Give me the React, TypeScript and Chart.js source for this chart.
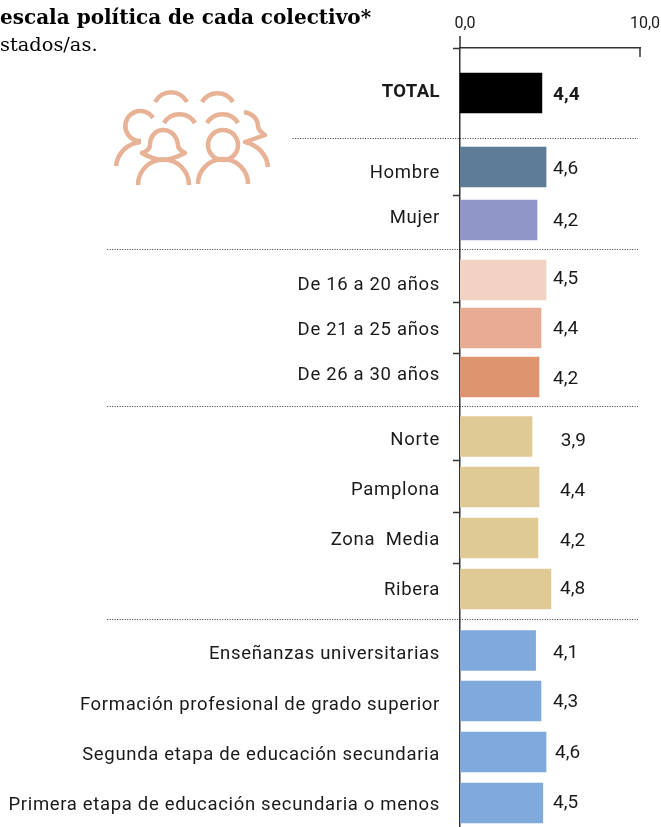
import React, { useEffect, useRef } from "react";
import { Chart, registerables } from "chart.js";

Chart.register(...registerables);

const categories = ["TOTAL","Hombre","Mujer","De 16 a 20 años","De 21 a 25 años","De 26 a 30 años","Norte","Pamplona","Zona  Media","Ribera","Enseñanzas universitarias","Formación profesional de grado superior","Segunda etapa de educación secundaria","Primera etapa de educación secundaria o menos"];
const valueLabels = ["4,4","4,6","4,2","4,5","4,4","4,2","3,9","4,4","4,2","4,8","4,1","4,3","4,6","4,5"];
const barLengths = [4.55,4.78,4.28,4.78,4.5,4.39,4.0,4.39,4.33,5.05,4.2,4.5,4.78,4.6];
const barRows = [93,167,220,280,328,377,436.5,487,538,589,650.5,701,752,803];
const labelRows = [92,173,218,285,330,375,440,490,540,590,654,705,755,805];
const valueRows = [95,169,221,279,329,379,441,491,541,589,653,702,753,803];
const valueCols = [5.17,5.17,5.17,5.17,5.17,5.17,5.6,5.56,5.56,5.56,5.17,5.17,5.28,5.17];
const barColors = ["#000000","#5E7B97","#9096C8","#F2D2C2","#E8AC92","#DE946E","#DFC995","#DFC995","#DFC995","#DFC995","#80A9DC","#80A9DC","#80A9DC","#80A9DC"];
const separators = [[138,-9.3],[249,-19.6],[406,-19.6],[619,-19.6]];
const axisTicks = [48,195,302,353,460,512,563];
const xTicks = [0,10];
const titleText = "escala política de cada colectivo*";
const subtitleText = "stados/as.";
const FONT = "Roboto";
const iconPaths = [
  "M155 103 A18 18 0 0 1 187 103",
  "M202 103 A18 18 0 0 1 233 103",
  "M164 124 A18 18 0 0 1 195 124",
  "M207 124 A18 18 0 0 1 238 124",
  "M153 119 A15 15 0 1 0 141 142",
  "M116 167 A27 27 0 0 1 141 143",
  "M244 113 C254 115 258 121 258 128 C259 132 262 134 265 136 L245 143 C258 146 267 156 268 168",
  "M142 154 C148 152 150 149 150 146 C150 137 156 131 163 131 C171 131 177 137 178 146 C178 150 181 152 185 154 C177 158 170 161 163 161 C156 161 149 158 142 154 Z",
  "M138 186 A25 25 0 0 1 189 186",
  "M198 185 A25 25 0 0 1 248 185",
  "M238 146 A15 15 0 1 1 208 146 A15 15 0 1 1 238 146 Z",
];

const overlay = {
  id: "overlay",
  afterDraw(c: any) {
    const { ctx, scales: { x, y } } = c;
    ctx.save();
    ctx.setLineDash([1, 1.5]);
    ctx.strokeStyle = "#333";
    ctx.lineWidth = 1;
    separators.forEach(([r, s]) => { ctx.beginPath(); ctx.moveTo(x.getPixelForValue(s), y.getPixelForValue(r)+.5); ctx.lineTo(638, y.getPixelForValue(r)+.5); ctx.stroke(); });
    ctx.setLineDash([]);
    ctx.lineWidth = 1.5;
    ctx.strokeStyle = "#333";
    ctx.beginPath();
    ctx.moveTo(x.getPixelForValue(10), y.getPixelForValue(48));
    ctx.lineTo(x.getPixelForValue(10), y.getPixelForValue(57));
    ctx.moveTo(x.getPixelForValue(0), 36);
    ctx.lineTo(x.getPixelForValue(0), y.getPixelForValue(48));
    ctx.stroke();
    ctx.textBaseline = "middle";
    ctx.textAlign = "left";
    ctx.fillStyle = "#1a1a1a";
    valueLabels.forEach((t, i) => {
      ctx.font = `${i === 0 ? 700 : 400} 19px ${FONT}`;
      ctx.fillText(t, x.getPixelForValue(valueCols[i]), y.getPixelForValue(valueRows[i]));
    });
    ctx.textAlign = "right";
    categories.forEach((t, i) => {
      ctx.font = `${i === 0 ? 700 : 400} 18.5px ${FONT}`;
      (ctx as any).letterSpacing = i === 0 ? "0.4px" : "0.67px";
      ctx.fillText(t, 440, y.getPixelForValue(labelRows[i]));
    });
    (ctx as any).letterSpacing = "0px";
    ctx.textAlign = "left";
    ctx.fillStyle = "#000";
    ctx.font = `700 20px "DejaVu Serif"`;
    ctx.fillText(titleText, 0, 19);
    ctx.font = `400 19.4px "DejaVu Serif"`;
    ctx.fillText(subtitleText, 0, 46);
    ctx.strokeStyle = "#E8B296";
    ctx.lineWidth = 4.5;
    ctx.lineJoin = "round";
    ctx.translate(0, -1);
    iconPaths.forEach((d) => ctx.stroke(new Path2D(d)));
    ctx.restore();
  },
};

export default function App() {
  const ref = useRef<HTMLCanvasElement>(null);
  useEffect(() => {
    const chart = new Chart(ref.current!, {
      type: "bar",
      data: {
        datasets: [{
          data: barLengths.map((v, i) => ({ x: v, y: barRows[i] })),
          backgroundColor: barColors,
          barThickness: 40,
          borderWidth: 0,
        }],
      },
      options: {
        indexAxis: "y",
        animation: false,
        responsive: false,
        layout: { padding: { left: 460, right: 21, top: 0, bottom: 0 } },
        plugins: { legend: { display: false }, tooltip: { enabled: false } },
        scales: {
          x: {
            type: "linear", position: "top", min: 0, max: 10, z: 1,
            afterBuildTicks(s: any) { s.ticks = xTicks.map((value) => ({ value })); },
            afterFit(s: any) { s.height = 48; s.paddingRight = 0; s.paddingLeft = 0; },
            border: { display: true, color: "#333", width: 1.5 },
            grid: { display: false, drawOnChartArea: false },
            ticks: {
              autoSkip: false, maxRotation: 0, padding: 6, labelOffset: 5,
              color: "#1a1a1a", font: { family: FONT, size: 16 },
              callback: (v: any) => `${Number(v).toFixed(1).replace(".", ",")}`,
            },
          },
          y: {
            type: "linear", position: "left", reverse: true, min: 48, max: 827, z: 1, offset: false,
            afterBuildTicks(s: any) { s.ticks = axisTicks.map((value) => ({ value })); },
            afterFit(s: any) { s.width = 0; },
            border: { display: true, color: "#333", width: 1.5 },
            grid: { offset: false, drawOnChartArea: false, drawTicks: true, tickLength: 7, tickWidth: 1.5, tickColor: "#333" },
            ticks: { autoSkip: false, display: false },
          },
        },
      } as any,
      plugins: [overlay],
    });
    return () => chart.destroy();
  }, []);
  return <canvas ref={ref} width={661} height={827} style={{ position: "absolute", left: 0, top: 0 }} />;
}
